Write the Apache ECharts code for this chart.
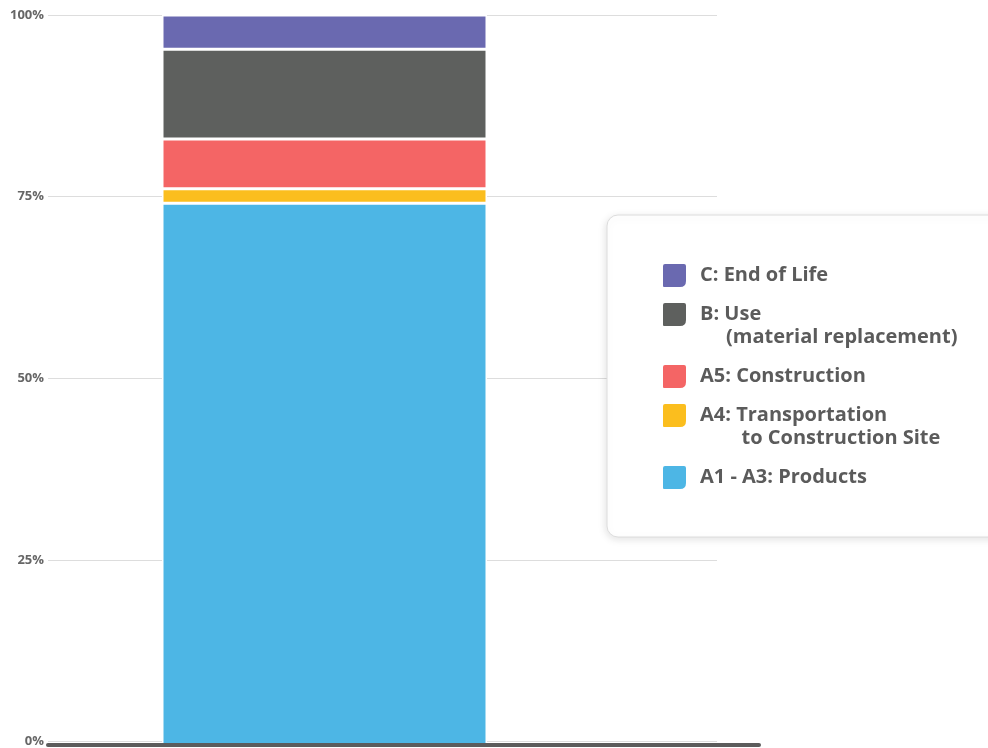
<!DOCTYPE html>
<html>
<head>
<meta charset="utf-8">
<script src="https://cdn.jsdelivr.net/npm/echarts@6/dist/echarts.min.js"></script>
<style>
html,body{margin:0;padding:0;background:#fff;}
#chart{width:988px;height:748px;}
</style>
</head>
<body>
<div id="chart"></div>
<script>
// ---- data ----
const categories = [''];
const seriesNames = ['A1 - A3: Products', 'A4: Transportation', 'A5: Construction', 'B: Use', 'C: End of Life'];
const productsValues = [74.2];
const transportValues = [2.0];
const constructionValues = [6.8];
const useValues = [12.3];
const endOfLifeValues = [4.7];
const tickLabels = ['0%', '25%', '50%', '75%', '100%'];
const legendOrder = ['C: End of Life', 'B: Use', 'A5: Construction', 'A4: Transportation', 'A1 - A3: Products'];
const legendText = {
  'C: End of Life': 'C: End of Life',
  'B: Use': 'B: Use\n     (material replacement)',
  'A5: Construction': 'A5: Construction',
  'A4: Transportation': 'A4: Transportation\n        to Construction Site',
  'A1 - A3: Products': 'A1 - A3: Products'
};
const twoLine = {'B: Use': true, 'A4: Transportation': true};

// ---- styles ----
const colors = {
  'A1 - A3: Products': '#4db6e5',
  'A4: Transportation': '#fbbe1e',
  'A5: Construction': '#f46565',
  'B: Use': '#5e605e',
  'C: End of Life': '#6a69b0'
};
const FONT = 'Open Sans';

function iconPath(y0, H) {
  // rounded square 23x23 at y0 plus invisible degenerate lines defining bbox 23 x H
  const s = 23;
  return 'path://M0,0 L23,0 Z M0,' + H + ' L23,' + H + ' Z ' +
    'M2,' + y0 + ' H21 Q23,' + y0 + ' 23,' + (y0 + 2) +
    ' V' + (y0 + 17) + ' Q23,' + (y0 + s) + ' 17,' + (y0 + s) +
    ' H1 Q0,' + (y0 + s) + ' 0,' + (y0 + s - 1) +
    ' V' + (y0 + 2) + ' Q0,' + y0 + ' 2,' + y0 + ' Z';
}

const seriesData = [productsValues, transportValues, constructionValues, useValues, endOfLifeValues];

const chart = echarts.init(document.getElementById('chart'), null, {renderer: 'canvas'});

const option = {
  animation: false,
  grid: [
    {left: 48, right: 988 - 717, top: 15, bottom: 3},
    {left: 48, right: 988 - 759, top: 15, bottom: 3},
    {left: 48, right: 988 - 601, top: 15, bottom: 3}
  ],
  xAxis: [
    {gridIndex: 0, type: 'category', data: categories, show: false},
    {gridIndex: 1, type: 'category', data: categories, z: 10,
      axisLine: {show: true, lineStyle: {color: '#5c5c5c', width: 4}},
      axisTick: {show: false}, axisLabel: {show: false}},
    {gridIndex: 2, type: 'category', data: categories, show: false}
  ],
  yAxis: [
    {gridIndex: 0, type: 'value', min: 0, max: 100, interval: 25,
      axisLine: {show: false}, axisTick: {show: false},
      splitLine: {show: true, lineStyle: {color: '#dddddd', width: 1}},
      axisLabel: {margin: 4, color: '#666666', fontFamily: FONT, fontWeight: 'bold', fontSize: 13,
        formatter: function (v) { return tickLabels[Math.round(v / 25)]; }}},
    {gridIndex: 1, type: 'value', min: 0, max: 100, show: false, splitLine: {show: false}},
    {gridIndex: 2, type: 'value', min: 0, max: 100, show: false, splitLine: {show: false}}
  ],
  legend: {
    orient: 'vertical',
    left: 607,
    top: 215,
    padding: [37.5, 80, 36.5, 56],
    itemGap: 2.5,
    itemWidth: 23,
    itemHeight: 46,
    backgroundColor: '#ffffff',
    borderColor: '#dcdcdc',
    borderWidth: 1,
    borderRadius: 11,
    shadowBlur: 8,
    shadowColor: 'rgba(0,0,0,0.12)',
    shadowOffsetX: -1,
    shadowOffsetY: 2,
    itemStyle: {borderWidth: 0},
    selectedMode: false,
    formatter: function (name) { return legendText[name]; },
    textStyle: {fontFamily: FONT, fontWeight: 'bold', fontSize: 20, color: '#5b5b5b',
      lineHeight: 23, padding: [4, 0, 0, 9]},
    data: legendOrder.map(function (n) {
      return {name: n, icon: iconPath(twoLine[n] ? 0 : 11.5, 46)};
    })
  },
  series: seriesNames.map(function (name, i) {
    return {
      name: name,
      type: 'bar',
      stack: 'total',
      xAxisIndex: 2,
      yAxisIndex: 2,
      barWidth: 325,
      data: seriesData[i],
      itemStyle: {color: colors[name], borderColor: '#ffffff', borderWidth: 1.5}
    };
  })
};
chart.setOption(option);
</script>
</body>
</html>
